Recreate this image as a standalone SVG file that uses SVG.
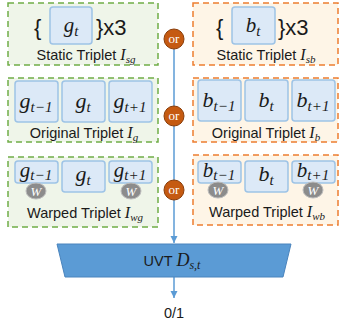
<svg xmlns="http://www.w3.org/2000/svg" width="340" height="322" viewBox="0 0 340 322">
<style>
.gbox{fill:#eff5e9;stroke:#70ad47;stroke-width:1.5;stroke-dasharray:6 4}
.obox{fill:#fef5e7;stroke:#ed7d31;stroke-width:1.5;stroke-dasharray:6 4}
.ib{fill:#dce9f7;stroke:#9dc3e6;stroke-width:1.5}
.lab{font-family:"Liberation Sans","Open Sans",sans-serif;font-size:14.5px;fill:#1a1a1a;text-anchor:middle}
.big{font-family:"Liberation Sans","Open Sans",sans-serif;font-size:22px;fill:#1a1a1a}
.m{font-family:"Liberation Serif","DejaVu Serif",serif;font-style:italic;fill:#1a1a1a;text-anchor:middle}
.orc{fill:#c55a11;stroke:#8a3e0b;stroke-width:1}
.ort{font-family:"Liberation Serif",serif;font-size:13px;fill:#ffffff;text-anchor:middle}
.w{fill:#8c8c8c;stroke:#bdbdbd;stroke-width:1}
.wt{font-family:"Liberation Serif",serif;font-style:italic;font-size:13px;fill:#ffffff;text-anchor:middle}
.ln{stroke:#5b9bd5;stroke-width:1.5;fill:none}
</style>
<defs>
<marker id="ah" viewBox="0 0 10 10" refX="10" refY="5" markerWidth="5" markerHeight="5" orient="auto" markerUnits="strokeWidth">
<path d="M0,0 L10,5 L0,10 z" fill="#5b9bd5"/>
</marker>
</defs>

<g id="connectors">
<line class="ln" x1="174" y1="39" x2="174" y2="243" marker-end="url(#ah)"/>
<line class="ln" x1="174" y1="277" x2="174" y2="298" marker-end="url(#ah)"/>
</g>

<g id="static-g">
<rect class="gbox" x="8" y="3" width="150" height="62"/>
<text class="big" x="34" y="35">{</text>
<rect class="ib" x="50" y="7" width="42" height="37" rx="3"/>
<text class="m" x="71" y="32" font-size="21">g<tspan font-size="15" dy="4">t</tspan></text>
<text class="big" x="96" y="35">}x3</text>
<text class="lab" x="86" y="60">Static Triplet <tspan class="m" font-size="16">I</tspan><tspan class="m" font-size="11" dy="3">sg</tspan></text>
</g>

<g id="static-b">
<rect class="obox" x="193" y="3" width="145" height="62"/>
<text class="big" x="216" y="35">{</text>
<rect class="ib" x="232" y="7" width="43" height="37" rx="3"/>
<text class="m" x="253" y="32" font-size="21">b<tspan font-size="15" dy="4">t</tspan></text>
<text class="big" x="278" y="35">}x3</text>
<text class="lab" x="266" y="60">Static Triplet <tspan class="m" font-size="16">I</tspan><tspan class="m" font-size="11" dy="3">sb</tspan></text>
</g>

<g id="orig-g">
<rect class="gbox" x="8" y="78" width="150" height="64"/>
<rect class="ib" x="15" y="81" width="43" height="41" rx="3"/>
<rect class="ib" x="62" y="81" width="43" height="41" rx="3"/>
<rect class="ib" x="109" y="81" width="43" height="41" rx="3"/>
<text class="m" x="36" y="108" font-size="22">g<tspan font-size="15" dy="4">t−1</tspan></text>
<text class="m" x="83" y="108" font-size="22">g<tspan font-size="15" dy="4">t</tspan></text>
<text class="m" x="130" y="108" font-size="22">g<tspan font-size="15" dy="4">t+1</tspan></text>
<text class="lab" x="84" y="138">Original Triplet <tspan class="m" font-size="16">I</tspan><tspan class="m" font-size="11" dy="3">g</tspan></text>
</g>

<g id="orig-b">
<rect class="obox" x="193" y="78" width="145" height="64"/>
<rect class="ib" x="198" y="80" width="43" height="41" rx="3"/>
<rect class="ib" x="245" y="80" width="43" height="41" rx="3"/>
<rect class="ib" x="292" y="80" width="43" height="41" rx="3"/>
<text class="m" x="219" y="107" font-size="22">b<tspan font-size="15" dy="4">t−1</tspan></text>
<text class="m" x="266" y="107" font-size="22">b<tspan font-size="15" dy="4">t</tspan></text>
<text class="m" x="313" y="107" font-size="22">b<tspan font-size="15" dy="4">t+1</tspan></text>
<text class="lab" x="266" y="138">Original Triplet <tspan class="m" font-size="16">I</tspan><tspan class="m" font-size="11" dy="3">b</tspan></text>
</g>

<g id="warp-g">
<rect class="gbox" x="8" y="157" width="150" height="70"/>
<rect class="ib" x="15" y="161" width="43" height="22" rx="3"/>
<rect class="ib" x="62" y="161" width="43" height="31" rx="3"/>
<rect class="ib" x="109" y="161" width="43" height="22" rx="3"/>
<text class="m" x="36" y="177" font-size="21">g<tspan font-size="15" dy="3">t−1</tspan></text>
<text class="m" x="83" y="181" font-size="22">g<tspan font-size="15" dy="4">t</tspan></text>
<text class="m" x="130" y="177" font-size="21">g<tspan font-size="15" dy="3">t+1</tspan></text>
<ellipse class="w" cx="36" cy="191" rx="10" ry="8"/>
<text class="wt" x="36" y="196">W</text>
<ellipse class="w" cx="131" cy="191" rx="10" ry="8"/>
<text class="wt" x="131" y="196">W</text>
<text class="lab" x="85" y="218">Warped Triplet <tspan class="m" font-size="16">I</tspan><tspan class="m" font-size="11" dy="3">wg</tspan></text>
</g>

<g id="warp-b">
<rect class="obox" x="193" y="155" width="145" height="70"/>
<rect class="ib" x="198" y="161" width="43" height="22" rx="3"/>
<rect class="ib" x="245" y="161" width="43" height="31" rx="3"/>
<rect class="ib" x="292" y="161" width="43" height="22" rx="3"/>
<text class="m" x="219" y="177" font-size="21">b<tspan font-size="15" dy="3">t−1</tspan></text>
<text class="m" x="266" y="181" font-size="22">b<tspan font-size="15" dy="4">t</tspan></text>
<text class="m" x="313" y="177" font-size="21">b<tspan font-size="15" dy="3">t+1</tspan></text>
<ellipse class="w" cx="218" cy="190" rx="10" ry="8"/>
<text class="wt" x="218" y="195">W</text>
<ellipse class="w" cx="313" cy="190" rx="10" ry="8"/>
<text class="wt" x="313" y="195">W</text>
<text class="lab" x="267" y="217">Warped Triplet <tspan class="m" font-size="16">I</tspan><tspan class="m" font-size="11" dy="3">wb</tspan></text>
</g>

<g id="or1"><circle class="orc" cx="174" cy="39" r="10"/><text class="ort" x="174" y="43">or</text></g>
<g id="or2"><circle class="orc" cx="174" cy="116" r="10"/><text class="ort" x="174" y="120">or</text></g>
<g id="or3"><circle class="orc" cx="174" cy="190" r="10"/><text class="ort" x="174" y="194">or</text></g>

<g id="uvt">
<path d="M57,244 L291,244 L283,277 L65,277 Z" fill="#5b9bd5" stroke="#4a84bd" stroke-width="1"/>
<text class="lab" x="172" y="266" font-size="16">UVT <tspan class="m" font-size="18">D</tspan><tspan class="m" font-size="12" dy="3">s,t</tspan></text>
</g>

<g id="out">
<text class="lab" x="174" y="318" font-size="15">0/1</text>
</g>
</svg>
